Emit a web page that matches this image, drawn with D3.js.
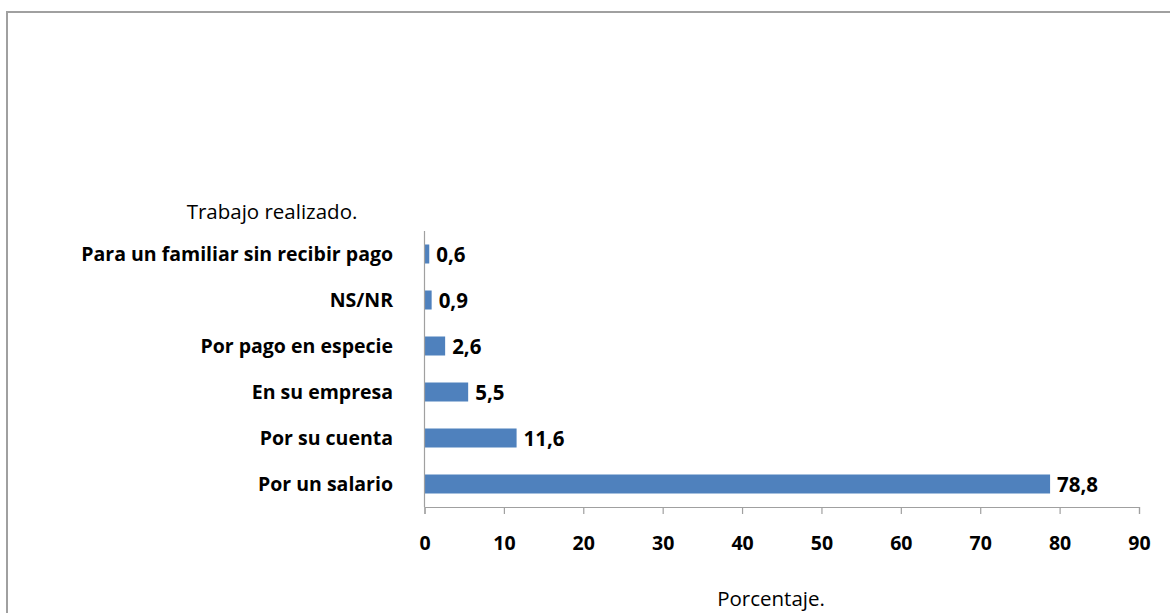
<!DOCTYPE html>
<html><head><meta charset="utf-8">
<script src="https://cdn.jsdelivr.net/npm/d3@7"></script>
<style>body{margin:0;background:#fff;} svg{display:block;} text{font-family:"Open Sans",Lato,sans-serif;}</style>
</head><body>
<svg id="c" width="1170" height="613"></svg>
<script>
const categories = ["Para un familiar sin recibir pago","NS/NR","Por pago en especie","En su empresa","Por su cuenta","Por un salario"];
const values = [0.6, 0.9, 2.6, 5.5, 11.6, 78.8];
const valueLabels = ["0,6","0,9","2,6","5,5","11,6","78,8"];
const xTicks = [0,10,20,30,40,50,60,70,80,90];
const yTitle = "Trabajo realizado.";
const xTitle = "Porcentaje.";

const svg = d3.select("#c");
svg.append("rect").attr("x",7).attr("y",12).attr("width",1175).attr("height",620)
  .attr("fill","none").attr("stroke","#a0a0a0").attr("stroke-width",2);

const x = d3.scaleLinear().domain([0,90]).range([424.5,1139]);
const y = d3.scaleBand().domain(categories).range([231,507]).paddingInner(0.587).paddingOuter(0.2935);

// bars
svg.selectAll("rect.bar").data(values).enter().append("rect").attr("class","bar")
  .attr("x",x(0)).attr("y",(d,i)=>y(categories[i]))
  .attr("width",d=>x(d)-x(0)).attr("height",y.bandwidth()).attr("fill","#4f81bd");

// x axis
const xa = svg.append("g").attr("transform","translate(0,507)")
  .call(d3.axisBottom(x).tickValues(xTicks).tickSize(7).tickFormat(d3.format("d")));
xa.select(".domain").attr("stroke","#a0a0a0").attr("stroke-width",1.2);
xa.selectAll(".tick line").attr("stroke","#a0a0a0").attr("stroke-width",1.2);
xa.selectAll(".tick text").attr("font-size",19.5).attr("font-weight","bold").attr("fill","#000")
  .attr("font-family","'Open Sans',Lato,sans-serif").attr("y",43).attr("dy",null);

// y axis line
svg.append("line").attr("x1",x(0)).attr("x2",x(0)).attr("y1",231).attr("y2",507)
  .attr("stroke","#a0a0a0").attr("stroke-width",1.2);

// category labels
svg.selectAll("text.cat").data(categories).enter().append("text").attr("class","cat")
  .attr("x",393).attr("y",d=>y(d)+y.bandwidth()/2+7).attr("text-anchor","end")
  .attr("font-size",19.5).attr("font-weight","bold").attr("fill","#000").text(d=>d);

// value labels
svg.selectAll("text.val").data(values).enter().append("text").attr("class","val")
  .attr("x",d=>x(d)+7).attr("y",(d,i)=>y(categories[i])+y.bandwidth()/2+7.5)
  .attr("font-size",20.5).attr("font-weight","bold").attr("fill","#000").text((d,i)=>valueLabels[i]);

svg.append("text").attr("x",272).attr("y",219).attr("text-anchor","middle")
  .attr("font-size",20.5).attr("fill","#000").text(yTitle);
svg.append("text").attr("x",771).attr("y",606).attr("text-anchor","middle")
  .attr("font-size",20.5).attr("fill","#000").text(xTitle);
</script>
</body></html>
